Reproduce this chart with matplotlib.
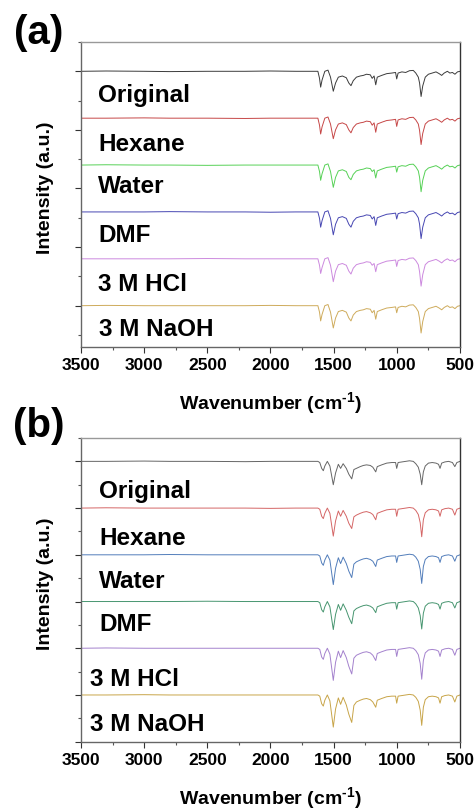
import matplotlib
matplotlib.use("Agg")
import matplotlib.pyplot as plt
from matplotlib.ticker import MultipleLocator, FixedLocator
import numpy as np

plt.rcParams['font.family'] = ['Liberation Sans', 'DejaVu Sans']
plt.rcParams['mathtext.fontset'] = 'custom'
plt.rcParams['mathtext.rm'] = 'Liberation Sans:bold'
plt.rcParams['mathtext.it'] = 'Liberation Sans:bold'
plt.rcParams['mathtext.bf'] = 'Liberation Sans:bold'

# ---------------- data ----------------
samples = ["Original", "Hexane", "Water", "DMF", "3 M HCl", "3 M NaOH"]
x_ticks = [3500, 3000, 2500, 2000, 1500, 1000, 500]

wn_a = [3500, 3300, 3000, 2800, 2500, 2200, 2000, 1800,
        1625, 1612, 1603, 1592, 1570, 1545, 1525, 1503,
        1485, 1463, 1431, 1400, 1380, 1363, 1345, 1320,
        1290, 1265, 1240, 1210, 1195, 1180, 1167, 1155,
        1120, 1080, 1040, 1010, 1001, 990, 960, 930,
        900, 870, 850, 830, 820, 808, 795, 775,
        750, 720, 690, 665, 645, 625, 600, 580,
        560, 540, 520, 500]

a_original = [0, 0.005, 0, -0.005, 0, 0, 0.005, 0,
              0, -0.12, -0.27, -0.15, 0.0, 0.02, -0.10, -0.34,
              -0.20, -0.10, -0.08, -0.11, -0.20, -0.245, -0.16, -0.10,
              -0.08, -0.07, -0.05, -0.06, -0.12, -0.08, -0.23, -0.10,
              -0.07, -0.04, -0.03, -0.02, -0.13, -0.03, -0.01, -0.02,
              0.01, 0.015, -0.03, -0.10, -0.20, -0.43, -0.25, -0.10,
              -0.05, -0.03, -0.01, -0.04, -0.07, -0.03, 0.0, -0.03,
              -0.02, -0.05, -0.01, 0.0]
a_hexane = [0, 0, 0.005, 0, 0, -0.005, 0, 0,
            0, -0.12, -0.27, -0.15, 0.0, 0.02, -0.10, -0.35,
            -0.20, -0.10, -0.08, -0.11, -0.20, -0.25, -0.16, -0.10,
            -0.08, -0.07, -0.05, -0.06, -0.12, -0.08, -0.24, -0.10,
            -0.07, -0.04, -0.03, -0.02, -0.14, -0.03, -0.01, -0.02,
            0.01, 0.015, -0.03, -0.10, -0.21, -0.45, -0.26, -0.10,
            -0.05, -0.03, -0.01, -0.04, -0.07, -0.03, 0.0, -0.03,
            -0.02, -0.05, -0.01, 0.0]
a_water = [0, 0.005, 0, 0, -0.005, 0, 0, 0,
           0, -0.11, -0.26, -0.15, 0.0, 0.02, -0.11, -0.38,
           -0.21, -0.10, -0.08, -0.11, -0.21, -0.25, -0.16, -0.10,
           -0.08, -0.07, -0.05, -0.06, -0.11, -0.08, -0.22, -0.10,
           -0.07, -0.04, -0.03, -0.02, -0.12, -0.03, -0.01, -0.02,
           0.01, 0.015, -0.03, -0.10, -0.21, -0.455, -0.26, -0.10,
           -0.05, -0.03, -0.01, -0.04, -0.07, -0.03, 0.0, -0.03,
           -0.02, -0.05, -0.01, 0.0]
a_dmf = [0, 0, 0, 0.005, 0, 0, -0.005, 0,
         0, -0.11, -0.26, -0.15, 0.0, 0.02, -0.11, -0.39,
         -0.21, -0.10, -0.08, -0.11, -0.21, -0.26, -0.16, -0.10,
         -0.08, -0.07, -0.05, -0.06, -0.12, -0.08, -0.23, -0.10,
         -0.07, -0.04, -0.03, -0.02, -0.12, -0.03, -0.01, -0.02,
         0.01, 0.015, -0.03, -0.10, -0.21, -0.455, -0.26, -0.10,
         -0.05, -0.03, -0.01, -0.04, -0.07, -0.03, 0.0, -0.03,
         -0.02, -0.05, -0.01, 0.0]
a_hcl = [0, 0, 0, 0, 0.005, 0, 0, 0,
         0, -0.11, -0.25, -0.15, 0.0, 0.02, -0.11, -0.39,
         -0.21, -0.10, -0.08, -0.11, -0.21, -0.26, -0.16, -0.10,
         -0.08, -0.07, -0.05, -0.06, -0.11, -0.08, -0.22, -0.10,
         -0.07, -0.04, -0.03, -0.02, -0.13, -0.03, -0.01, -0.02,
         0.01, 0.015, -0.03, -0.10, -0.22, -0.466, -0.27, -0.10,
         -0.05, -0.03, -0.01, -0.04, -0.07, -0.03, 0.0, -0.03,
         -0.02, -0.05, -0.01, 0.0]
a_naoh = [0, 0.005, 0, 0, 0, 0, 0.005, 0,
          0, -0.11, -0.26, -0.15, 0.0, 0.02, -0.11, -0.38,
          -0.21, -0.10, -0.08, -0.11, -0.21, -0.26, -0.16, -0.10,
          -0.08, -0.07, -0.05, -0.06, -0.12, -0.08, -0.23, -0.10,
          -0.07, -0.04, -0.03, -0.02, -0.12, -0.03, -0.01, -0.02,
          0.01, 0.015, -0.03, -0.10, -0.22, -0.466, -0.27, -0.10,
          -0.05, -0.03, -0.01, -0.04, -0.07, -0.03, 0.0, -0.03,
          -0.02, -0.05, -0.01, 0.0]

wn_b = [3500, 3300, 3000, 2800, 2500, 2200, 2000, 1800,
        1625, 1610, 1595, 1582, 1570, 1550, 1530, 1503,
        1485, 1463, 1445, 1425, 1400, 1380, 1357, 1340,
        1320, 1290, 1265, 1240, 1210, 1190, 1167, 1155,
        1120, 1080, 1040, 1010, 1001, 990, 960, 930,
        900, 870, 850, 830, 815, 803, 790, 775,
        750, 720, 690, 670, 658, 645, 620, 590,
        560, 541, 525, 500]

b_original = [0, 0, 0.005, 0, 0, -0.005, 0, 0,
              0, -0.02, -0.12, -0.16, -0.08, 0.0, -0.08, -0.40,
              -0.20, -0.05, -0.12, -0.04, -0.12, -0.22, -0.30, -0.14,
              -0.12, -0.09, -0.07, -0.06, -0.07, -0.10, -0.18, -0.09,
              -0.06, -0.03, -0.02, -0.02, -0.12, -0.02, -0.01, 0.0,
              0.01, 0.0, -0.04, -0.10, -0.22, -0.40, -0.18, -0.08,
              -0.03, -0.02, -0.03, -0.05, -0.12, -0.03, -0.01, 0.0,
              -0.02, -0.09, -0.02, 0.0]
b_hexane = [0, 0.005, 0, 0, 0, 0, -0.005, 0,
            0, -0.02, -0.14, -0.18, -0.09, 0.0, -0.09, -0.48,
            -0.22, -0.05, -0.14, -0.04, -0.14, -0.26, -0.35, -0.15,
            -0.12, -0.09, -0.07, -0.06, -0.08, -0.11, -0.20, -0.09,
            -0.06, -0.03, -0.02, -0.02, -0.14, -0.02, -0.01, 0.0,
            0.01, 0.0, -0.04, -0.11, -0.25, -0.49, -0.20, -0.08,
            -0.03, -0.02, -0.03, -0.05, -0.14, -0.03, -0.01, 0.0,
            -0.02, -0.12, -0.02, 0.0]
b_water = [0, 0, 0, 0.005, 0, 0, 0, 0,
           0, -0.02, -0.14, -0.18, -0.09, 0.0, -0.09, -0.51,
           -0.23, -0.05, -0.15, -0.04, -0.15, -0.28, -0.39, -0.16,
           -0.12, -0.09, -0.07, -0.06, -0.08, -0.11, -0.20, -0.09,
           -0.06, -0.03, -0.02, -0.02, -0.13, -0.02, -0.01, 0.0,
           0.01, 0.0, -0.04, -0.11, -0.25, -0.49, -0.20, -0.08,
           -0.03, -0.02, -0.03, -0.05, -0.13, -0.03, -0.01, 0.0,
           -0.02, -0.11, -0.02, 0.0]
b_dmf = [0, 0, 0, 0, 0.005, 0, 0, 0,
         0, -0.02, -0.14, -0.18, -0.09, 0.0, -0.09, -0.48,
         -0.22, -0.05, -0.15, -0.04, -0.15, -0.27, -0.38, -0.16,
         -0.12, -0.09, -0.07, -0.06, -0.08, -0.11, -0.19, -0.09,
         -0.06, -0.03, -0.02, -0.02, -0.13, -0.02, -0.01, 0.0,
         0.01, 0.0, -0.04, -0.11, -0.24, -0.47, -0.20, -0.08,
         -0.03, -0.02, -0.03, -0.05, -0.13, -0.03, -0.01, 0.0,
         -0.02, -0.11, -0.02, 0.0]
b_hcl = [0, 0.005, 0, 0, 0, 0, 0, 0,
         0, -0.02, -0.15, -0.19, -0.09, 0.0, -0.10, -0.55,
         -0.24, -0.05, -0.16, -0.04, -0.16, -0.31, -0.44, -0.17,
         -0.12, -0.09, -0.07, -0.06, -0.08, -0.12, -0.21, -0.09,
         -0.06, -0.03, -0.02, -0.02, -0.14, -0.02, -0.01, 0.0,
         0.01, 0.0, -0.04, -0.11, -0.26, -0.53, -0.21, -0.08,
         -0.03, -0.02, -0.03, -0.05, -0.14, -0.03, -0.01, 0.0,
         -0.02, -0.12, -0.02, 0.0]
b_naoh = [0, 0, 0.005, 0, 0, 0, 0, 0,
          0, -0.02, -0.15, -0.19, -0.09, 0.0, -0.10, -0.55,
          -0.24, -0.05, -0.16, -0.04, -0.17, -0.33, -0.47, -0.18,
          -0.12, -0.09, -0.07, -0.06, -0.08, -0.12, -0.21, -0.09,
          -0.06, -0.03, -0.02, -0.02, -0.14, -0.02, -0.01, 0.0,
          0.01, 0.0, -0.04, -0.11, -0.26, -0.52, -0.21, -0.08,
          -0.03, -0.02, -0.03, -0.05, -0.14, -0.03, -0.01, 0.0,
          -0.02, -0.12, -0.02, 0.0]

series_a = [a_original, a_hexane, a_water, a_dmf, a_hcl, a_naoh]
series_b = [b_original, b_hexane, b_water, b_dmf, b_hcl, b_naoh]

colors_a = ["#262626", "#c03333", "#44cc44", "#3333aa", "#c77ddb", "#c9a24a"]
colors_b = ["#555555", "#d05555", "#3f6fb3", "#338a60", "#9a74c8", "#c29b35"]

# ---------------- figure ----------------
W, H = 477, 812
fig = plt.figure(figsize=(W / 100, H / 100), dpi=100)


def px_axes(l, t, r, b):
    return fig.add_axes([l / W, 1 - b / H, (r - l) / W, (b - t) / H])


ax_a = px_axes(81, 43, 460, 348)
ax_b = px_axes(81, 439, 460, 742.7)

label_y_a = [3.485, 2.657, 1.932, 1.096, 0.268, -0.50]
label_x_a = [3362, 3362, 3362, 3362, 3362, 3355]
label_y_b = [3.385, 2.586, 1.846, 1.104, 0.164, -0.605]
label_x_b = [3355, 3355, 3355, 3355, 3430, 3430]

spacing = 0.8

for ax, wn, series, cols, lx, ly, ylim, panel in [
        (ax_a, wn_a, series_a, colors_a, label_x_a, label_y_a, (-0.705, 4.5), "(a)"),
        (ax_b, wn_b, series_b, colors_b, label_x_b, label_y_b, (-0.8, 4.4), "(b)")]:
    n = len(series)
    for i, (vals, c) in enumerate(zip(series, cols)):
        off = spacing * (n - 1 - i)
        ax.plot(wn, np.asarray(vals) + off, color=c, lw=0.7, alpha=0.9)
        ax.text(lx[i], ly[i], samples[i], fontsize=17.5, fontweight='bold',
                ha='left', va='baseline', color='black')
    ax.set_xlim(3500, 500)
    ax.set_ylim(*ylim)
    ax.xaxis.set_major_locator(FixedLocator(x_ticks))
    ax.xaxis.set_minor_locator(MultipleLocator(250))
    ax.set_xticklabels([str(t) for t in x_ticks], fontsize=12.5, fontweight='bold')
    if panel == "(a)":
        ax.yaxis.set_major_locator(FixedLocator([0, 1, 2, 3, 4]))
        ax.yaxis.set_minor_locator(FixedLocator([-0.5, 0.5, 1.5, 2.5, 3.5, 4.5]))
    else:
        ax.yaxis.set_major_locator(FixedLocator([-0.8, 0, 0.8, 1.6, 2.4, 3.2, 4.0]))
        ax.yaxis.set_minor_locator(FixedLocator([-0.4, 0.4, 1.2, 2.0, 2.8, 3.6, 4.4]))
    ax.set_yticklabels([])
    ax.tick_params(axis='both', which='major', direction='out', length=4.5,
                   width=0.8, color='#333333', pad=3)
    ax.tick_params(axis='both', which='minor', direction='out', length=2.5,
                   width=0.8, color='#555555')
    ax.tick_params(axis='y', which='both', labelleft=False)
    for side, col in [('left', '#666666'), ('bottom', '#666666'),
                      ('top', '#999999'), ('right', '#333333')]:
        ax.spines[side].set_color(col)
        ax.spines[side].set_linewidth(1.0)
    ax.set_xlabel(r"Wavenumber (cm$^{\text{-}1}$)", fontsize=14, fontweight='bold')
    ax.xaxis.set_label_coords(0.499, -0.138)
    ax.set_ylabel("Intensity (a.u.)", fontsize=14, fontweight='bold')
    ax.yaxis.set_label_coords(-0.072, 0.524)

fig.text(39 / W, 1 - 33 / H, "(a)", fontsize=29, fontweight='bold',
         ha='center', va='center')
fig.text(39 / W, 1 - 426 / H, "(b)", fontsize=29, fontweight='bold',
         ha='center', va='center')

fig.savefig("out.png", dpi=100)
